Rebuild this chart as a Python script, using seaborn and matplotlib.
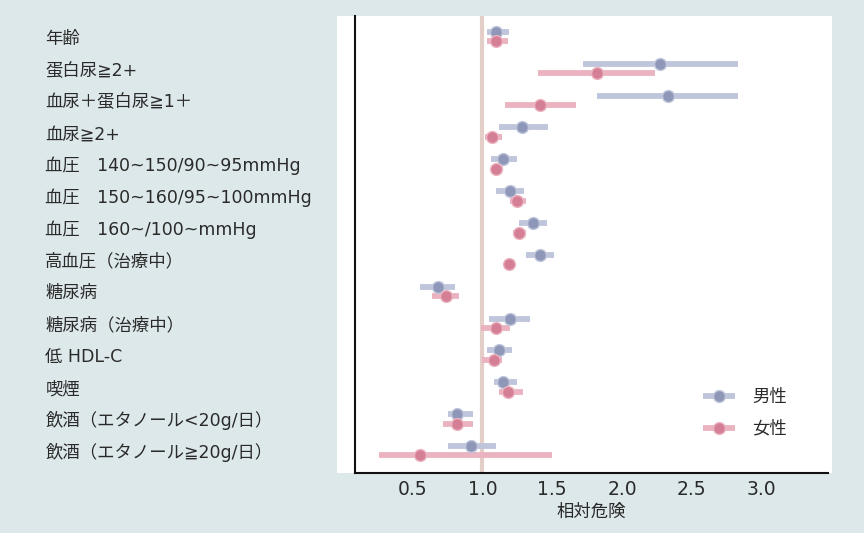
import numpy as np
import pandas as pd
import matplotlib
matplotlib.use("Agg")
import matplotlib.pyplot as plt
from matplotlib.lines import Line2D
from matplotlib.patches import Rectangle
import seaborn as sns

labels = ['年齢', '蛋白尿≧2+', '血尿＋蛋白尿≧1＋', '血尿≧2+',
          '血圧　140~150/90~95mmHg', '血圧　150~160/95~100mmHg',
          '血圧　160~/100~mmHg', '高血圧（治療中）', '糖尿病',
          '糖尿病（治療中）', '低 HDL-C', '喫煙',
          '飲酒（エタノール<20g/日）', '飲酒（エタノール≧20g/日）']

male_rr = [1.10, 2.27, 2.33, 1.28, 1.15, 1.20, 1.36, 1.41, 0.68, 1.20, 1.12, 1.15, 0.82, 0.92]
male_lo = [1.03, 1.72, 1.82, 1.12, 1.06, 1.10, 1.26, 1.31, 0.55, 1.05, 1.03, 1.08, 0.75, 0.75]
male_hi = [1.19, 2.83, 2.83, 1.47, 1.25, 1.30, 1.46, 1.51, 0.80, 1.34, 1.21, 1.25, 0.93, 1.10]
female_rr = [1.10, 1.82, 1.41, 1.07, 1.10, 1.25, 1.26, 1.19, 0.74, 1.10, 1.08, 1.18, 0.82, 0.55]
female_lo = [1.03, 1.40, 1.16, 1.02, 1.06, 1.20, 1.22, 1.17, 0.64, 0.99, 1.00, 1.12, 0.72, 0.26]
female_hi = [1.18, 2.24, 1.67, 1.14, 1.15, 1.31, 1.31, 1.21, 0.83, 1.20, 1.14, 1.29, 0.93, 1.50]

sexes = ['男性', '女性']
xticks = [0.5, 1.0, 1.5, 2.0, 2.5, 3.0]
xlabel = '相対危険'

# build long table: lo / estimate / hi per category & sex
rows = []
for sex, rr, lo, hi in [('男性', male_rr, male_lo, male_hi),
                        ('女性', female_rr, female_lo, female_hi)]:
    for lab, r, l, h in zip(labels, rr, lo, hi):
        for v in (l, r, h):
            rows.append({'item': lab, 'sex': sex, 'rr': v})
df = pd.DataFrame(rows)

sns.set_style("white")
plt.rcParams['font.family'] = ['DejaVu Sans', 'Noto Sans CJK JP']
plt.rcParams['lines.solid_capstyle'] = 'butt'

bar_colors = {'男性': '#bfc5da', '女性': '#ebb3bf'}
pt_colors = {'男性': '#8e97b8', '女性': '#d47f95'}
txt = '#2a2a2a'
bg = '#dde8eb'

fig = plt.figure(figsize=(8.64, 5.33), dpi=100, facecolor=bg)
fig.patches.append(Rectangle((337 / 864, 1 - 473 / 533), (832 - 337) / 864, (473 - 16) / 533,
                             transform=fig.transFigure, facecolor='white', edgecolor='none',
                             zorder=-10))
ax = fig.add_axes([355 / 864, 1 - 473 / 533, (828 - 355) / 864, (473 - 16) / 533])
ax.set_facecolor('white')

ax.axvline(1.0, color='#e3cfc8', lw=3, zorder=0.5)

sns.pointplot(data=df, x='rr', y='item', hue='sex', order=labels, hue_order=sexes,
              estimator='median', errorbar=('pi', 100), dodge=0.3,
              linestyle='none', markers='o', markersize=8.5,
              palette=bar_colors, err_kws={'linewidth': 4.2}, ax=ax, legend=False)

# darker marker faces
for ln in ax.lines:
    if ln.get_marker() not in (None, 'None', '', ' '):
        c = ln.get_color()
        for s in sexes:
            if matplotlib.colors.to_hex(c) == matplotlib.colors.to_hex(bar_colors[s]):
                ln.set_markerfacecolor(pt_colors[s])
                ln.set_markeredgecolor(bar_colors[s])
                ln.set_markeredgewidth(1.0)
                ln.set_zorder(3)

ax.set_xlim(0.086, 3.477)
ax.set_ylim(13.7, -0.65)
ax.set_xticks(xticks)
ax.set_xticklabels([f'{t:.1f}' for t in xticks])
ax.set_xlabel(xlabel, fontsize=12.5, color=txt, labelpad=3)
ax.set_ylabel('')

ax.tick_params(axis='x', length=0, pad=5, labelsize=13.5, labelcolor=txt)
ax.tick_params(axis='y', length=0, pad=223, labelsize=12.5, labelcolor=txt)
for t in ax.get_yticklabels():
    t.set_horizontalalignment('left')

for side in ['top', 'right']:
    ax.spines[side].set_visible(False)
for side in ['left', 'bottom']:
    ax.spines[side].set_color('#111111')
    ax.spines[side].set_linewidth(1.5)

handles = [Line2D([0], [0], color=bar_colors[s], lw=4.2, marker='o', markersize=8.5,
                  markerfacecolor=pt_colors[s], markeredgecolor=bar_colors[s])
           for s in sexes]
leg = ax.legend(handles, sexes, loc='center left', bbox_to_anchor=(0.736, 0.132),
                frameon=False, fontsize=12.5, handlelength=1.85, handletextpad=1.0,
                labelspacing=0.8, borderpad=0, borderaxespad=0)
for t in leg.get_texts():
    t.set_color(txt)

fig.savefig('out.png', dpi=100, facecolor=bg)
